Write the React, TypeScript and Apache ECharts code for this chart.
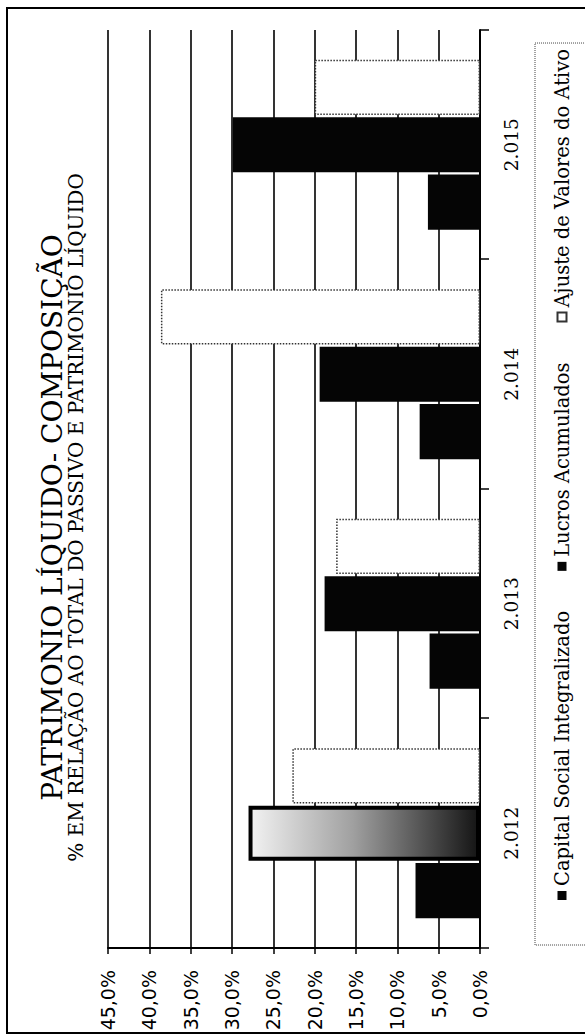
import React, { useEffect, useRef } from "react";
import * as echarts from "echarts";

const categories = ["2.012", "2.013", "2.014", "2.015"];
const capitalSocial = [7.8, 6.1, 7.3, 6.3];
const lucrosAcumulados = [28.0, 18.8, 19.4, 29.9];
const ajusteValores = [22.7, 17.4, 38.6, 20.0];
const seriesNames = ["Capital Social Integralizado", "Lucros Acumulados", "Ajuste de Valores do Ativo"];
const titleText = "PATRIMONIO LÍQUIDO- COMPOSIÇÃO";
const subtitleText = "% EM RELAÇÃO AO TOTAL DO PASSIVO E PATRIMONIO LÍQUIDO";

export default function App() {
  const ref = useRef<HTMLDivElement>(null);
  useEffect(() => {
    if (!ref.current) return;
    const chart = echarts.init(ref.current, null, { renderer: "svg" });
    const serif = "DejaVu Serif";
    const option: any = {
      animation: false,
      backgroundColor: "#ffffff",
      title: [
        {
          text: titleText,
          left: "center",
          top: 33,
          textStyle: { fontFamily: serif, fontSize: 28, fontWeight: "normal", color: "#000" },
        },
        {
          text: subtitleText,
          left: "center",
          top: 61,
          textStyle: { fontFamily: serif, fontSize: 20, fontWeight: "normal", color: "#000" },
        },
      ],
      graphic: [
        {
          type: "rect",
          shape: { x: 2, y: 7, width: 1025, height: 620 },
          style: { fill: "none", stroke: "#000", lineWidth: 2 },
          silent: true,
        },
      ],
      legend: {
        left: 90,
        top: 535,
        padding: [17, 6, 30, 45],
        itemGap: 40,
        itemWidth: 9,
        itemHeight: 9,
        icon: "rect",
        borderColor: "#444",
        borderWidth: 1,
        borderType: "dotted",
        textStyle: { fontFamily: serif, fontSize: 19.5, color: "#000" },
        data: seriesNames,
      },
      grid: { left: 87, right: 30, top: 108, bottom: 105 },
      xAxis: {
        type: "category",
        data: categories,
        boundaryGap: true,
        axisLine: { show: true, lineStyle: { color: "#000", width: 2 } },
        axisTick: { show: true, length: 9, lineStyle: { color: "#000", width: 1.5 } },
        axisLabel: { fontFamily: serif, fontSize: 18.5, color: "#000", margin: 22 },
        splitLine: { show: false },
      },
      yAxis: {
        type: "value",
        min: 0,
        max: 45,
        interval: 5,
        axisLine: { show: true, lineStyle: { color: "#000", width: 2 } },
        axisTick: { show: true, length: 6, lineStyle: { color: "#000", width: 1.5 } },
        axisLabel: {
          fontFamily: "DejaVu Sans",
          fontSize: 19,
          color: "#000",
          margin: 22,
          formatter: (v: number) => v.toFixed(1).replace(".", ",") + "%",
        },
        splitLine: { show: true, lineStyle: { color: "#000", width: 1.6 } },
      },
      series: [
        {
          name: seriesNames[0],
          type: "bar",
          data: capitalSocial,
          barGap: "4%",
          barCategoryGap: "26%",
          itemStyle: { color: "#050505" },
        },
        {
          name: seriesNames[1],
          type: "bar",
          data: lucrosAcumulados.map((v, i) =>
            i === 0
              ? {
                  value: v,
                  itemStyle: {
                    color: new echarts.graphic.LinearGradient(0, 0, 0, 1, [
                      { offset: 0, color: "#f2f2f2" },
                      { offset: 0.45, color: "#a0a0a0" },
                      { offset: 1, color: "#151515" },
                    ]),
                    borderColor: "#000",
                    borderWidth: 4,
                  },
                }
              : v
          ),
          barGap: "4%",
          barCategoryGap: "26%",
          itemStyle: { color: "#050505" },
        },
        {
          name: seriesNames[2],
          type: "bar",
          data: ajusteValores,
          barGap: "4%",
          barCategoryGap: "26%",
          itemStyle: { color: "#ffffff", borderColor: "#333", borderWidth: 1.5, borderType: "dotted" },
        },
      ],
    };
    chart.setOption(option);
    return () => chart.dispose();
  }, []);
  return (
    <div
      style={{
        position: "fixed",
        left: 0,
        top: 0,
        width: 585,
        height: 1035,
        overflow: "hidden",
        background: "#fff",
      }}
    >
      <div
        ref={ref}
        style={{
          position: "absolute",
          left: 0,
          top: 0,
          width: 1035,
          height: 585,
          transformOrigin: "0 0",
          transform: "translateY(1035px) rotate(-90deg)",
        }}
      />
    </div>
  );
}
